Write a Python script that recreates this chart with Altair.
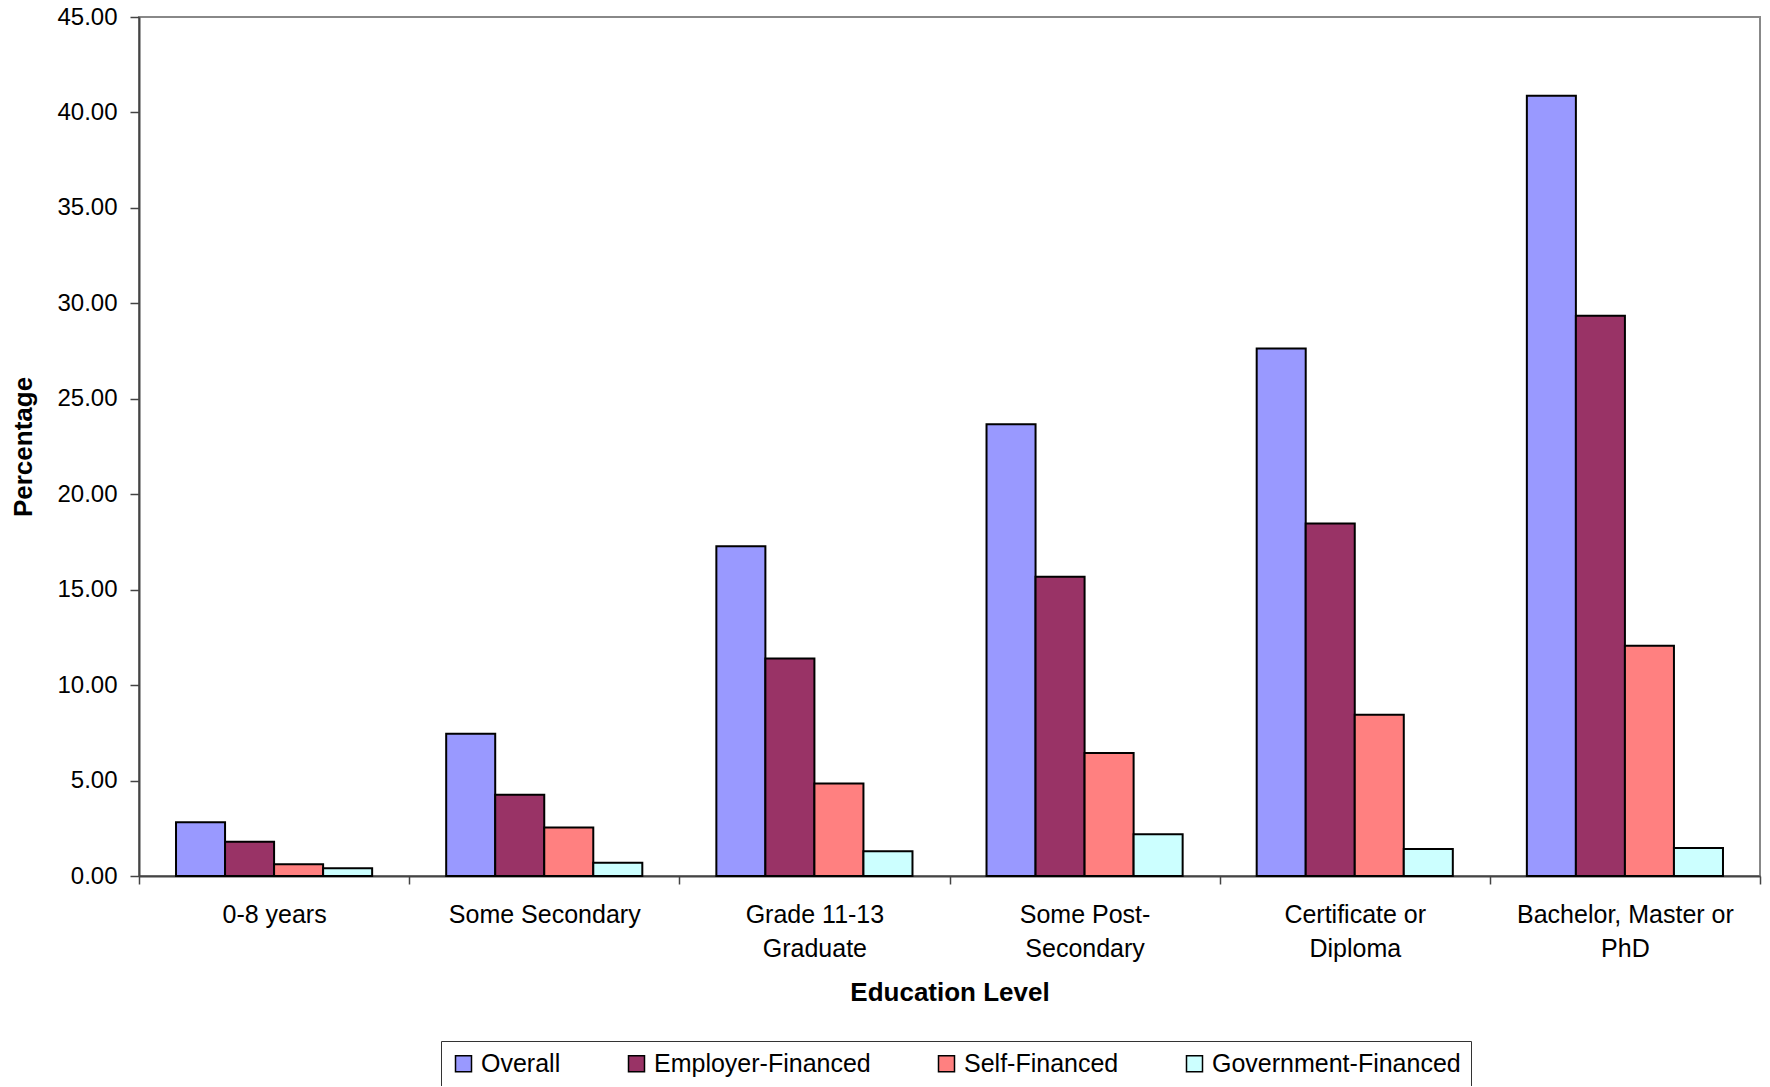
import altair as alt
import pandas as pd

categories = ["0-8 years", "Some Secondary", "Grade 11-13\nGraduate",
              "Some Post-\nSecondary", "Certificate or\nDiploma",
              "Bachelor, Master or\nPhD"]
series = ["Overall", "Employer-Financed", "Self-Financed", "Government-Financed"]
colors = ["#9999FF", "#993366", "#FF8080", "#CCFFFF"]

overall = [2.82, 7.45, 17.28, 23.66, 27.63, 40.87]
employer = [1.79, 4.25, 11.40, 15.68, 18.46, 29.35]
self_fin = [0.61, 2.54, 4.85, 6.44, 8.45, 12.06]
government = [0.40, 0.70, 1.30, 2.19, 1.42, 1.47]

y_ticks = [0, 5, 10, 15, 20, 25, 30, 35, 40, 45]

values = [overall, employer, self_fin, government]
rows = []
for s, vals in zip(series, values):
    for c, v in zip(categories, vals):
        rows.append({"Education Level": c, "Series": s, "Percentage": v})
df = pd.DataFrame(rows)

FONT = "Liberation Sans"

chart = alt.Chart(df).mark_bar(stroke="black", strokeWidth=2).encode(
    x=alt.X("Education Level:N", sort=categories,
            scale=alt.Scale(paddingInner=0, paddingOuter=0),
            axis=alt.Axis(title="Education Level", labelAngle=0,
                          labelExpr="split('\u2002\u2002' + datum.label, '\\n')",
                          labelLineHeight=34, labelFontSize=25,
                          labelLimit=500,
                          labelPadding=18, tickBand="extent", tickSize=8,
                          labelBaseline="top",
                          titleFontSize=26, titleFontWeight="bold",
                          titlePadding=18)),
    xOffset=alt.XOffset("Series:N", sort=series,
                        scale=alt.Scale(paddingInner=0, paddingOuter=0.755)),
    y=alt.Y("Percentage:Q", scale=alt.Scale(domain=[0, 45], nice=False),
            axis=alt.Axis(title="Percentage", values=y_ticks, format=".2f",
                          grid=False, tickSize=9, labelPadding=13,
                          labelFontSize=24, titleFontSize=26,
                          titleFontWeight="bold", titlePadding=20)),
    color=alt.Color("Series:N", sort=series,
                    scale=alt.Scale(domain=series, range=colors),
                    legend=alt.Legend(title=None, orient="none",
                                      legendX=302, legendY=1024,
                                      direction="horizontal",
                                      symbolType="square", symbolSize=256,
                                      symbolStrokeColor="black",
                                      symbolStrokeWidth=1.5,
                                      symbolOpacity=1,
                                      labelFontSize=25, labelOffset=5,
                                      labelLimit=500,
                                      columnPadding=63, padding=10,
                                      strokeColor="#333333",
                                      labelBaseline="middle")),
).properties(
    width=1621, height=859,
    autosize=alt.AutoSizeParams(type="none"),
    padding={"left": 131, "top": 9, "right": 2, "bottom": 210},
).configure_view(
    stroke="#888888", strokeWidth=2
).configure_axis(
    domainColor="#444444", domainWidth=2, tickColor="#444444", tickWidth=1.5,
    labelFont=FONT, titleFont=FONT, labelColor="black", titleColor="black"
).configure_legend(
    labelFont=FONT, labelColor="black"
)

chart.save("out.html", embed_options={"renderer": "svg", "actions": False})
